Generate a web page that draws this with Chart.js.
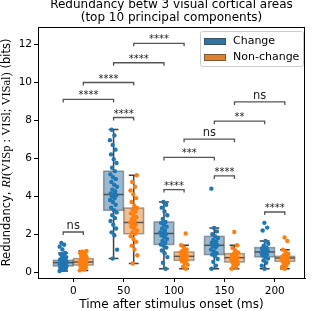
<!DOCTYPE html>
<html><head><meta charset="utf-8">
<script src="https://cdn.jsdelivr.net/npm/chart.js@4.4.0/dist/chart.umd.min.js"></script>
<style>html,body{margin:0;padding:0;background:#fff;}canvas{display:block;}</style>
</head><body>
<canvas id="c" width="312" height="311"></canvas>
<script>
// ---------- data ----------
const categories = [0, 50, 100, 150, 200];            // time after stimulus onset (ms)
const hues = ['Change', 'Non-change'];
const xTicks = [0, 50, 100, 150, 200];
const yTicks = [0, 2, 4, 6, 8, 10, 12];

// box stats per category: [whiskerLow, q1, median, q3, whiskerHigh]
const changeBox = [
  [0.07, 0.33, 0.51, 0.63, 1.02],
  [0.72, 3.26, 4.09, 5.32, 7.51],
  [0.19, 1.46, 2.04, 2.65, 3.70],
  [0.19, 0.93, 1.42, 1.89, 2.33],
  [0.19, 0.81, 1.07, 1.30, 1.65]
];
const nonChangeBox = [
  [0.10, 0.38, 0.54, 0.72, 1.12],
  [0.46, 2.03, 2.62, 3.38, 5.10],
  [0.19, 0.63, 0.84, 1.07, 1.42],
  [0.19, 0.54, 0.77, 0.98, 1.42],
  [0.19, 0.58, 0.75, 0.84, 1.19]
];

// individual values per category
const changePoints = [
  [0.07,0.12,0.15,0.2,0.22,0.25,0.28,0.3,0.32,0.34,0.36,0.38,0.4,0.42,0.44,0.46,0.48,0.5,0.51,0.52,0.54,0.56,0.58,0.6,0.62,0.63,0.66,0.7,0.75,0.8,0.88,0.95,1.02,1.2,1.35,1.45,1.54],
  [0.72,1.19,1.95,2.1,2.3,2.5,2.7,2.85,3.0,3.15,3.26,3.4,3.55,3.7,3.8,3.9,4.0,4.05,4.09,4.15,4.25,4.35,4.5,4.6,4.75,4.9,5.0,5.15,5.32,5.5,5.75,5.95,6.2,6.45,6.7,6.95,7.2,7.5],
  [0.19,0.5,0.8,1.0,1.15,1.3,1.4,1.46,1.55,1.65,1.75,1.85,1.95,2.0,2.04,2.1,2.2,2.3,2.4,2.5,2.6,2.65,2.8,3.0,3.2,3.4,3.55,3.7],
  [0.19,0.35,0.55,0.7,0.85,0.93,1.0,1.1,1.2,1.3,1.38,1.42,1.48,1.55,1.62,1.7,1.8,1.89,2.0,2.15,2.33,4.4],
  [0.19,0.35,0.5,0.62,0.72,0.81,0.88,0.94,1.0,1.04,1.07,1.1,1.15,1.2,1.25,1.3,1.4,1.5,1.65,2.2,2.35,2.6]
];
const nonChangePoints = [
  [0.1,0.15,0.2,0.25,0.3,0.34,0.38,0.4,0.43,0.46,0.48,0.5,0.52,0.54,0.55,0.57,0.6,0.63,0.66,0.7,0.72,0.75,0.8,0.85,0.9,0.95,1.0,1.05,1.08,1.12],
  [0.46,0.9,1.2,1.4,1.6,1.75,1.9,2.03,2.1,2.2,2.3,2.4,2.5,2.55,2.62,2.7,2.8,2.9,3.0,3.1,3.2,3.3,3.38,3.5,3.7,3.9,4.1,4.3,4.5,4.75,5.1],
  [0.19,0.3,0.4,0.5,0.58,0.63,0.68,0.72,0.76,0.8,0.84,0.88,0.92,0.96,1.0,1.04,1.07,1.12,1.2,1.3,1.42,2.04],
  [0.19,0.28,0.36,0.44,0.5,0.54,0.6,0.65,0.7,0.74,0.77,0.8,0.85,0.9,0.95,0.98,1.05,1.15,1.28,1.42,2.12],
  [0.19,0.28,0.36,0.44,0.5,0.55,0.58,0.62,0.66,0.7,0.73,0.75,0.77,0.8,0.82,0.84,0.9,0.98,1.08,1.19,1.65,1.83]
];

// significance annotations: groups as [categoryIndex, hueIndex]
const sigFrom  = [[1,1],[1,0],[0,1],[0,0],[1,0],[0,0],[3,1],[3,0],[2,1],[2,0],[3,0],[2,0],[4,0]];
const sigTo    = [[2,1],[2,0],[1,1],[1,0],[1,1],[0,1],[4,1],[4,0],[3,1],[3,0],[3,1],[2,1],[4,1]];
const sigLevel = [12.04,11.02,9.98,9.09,8.14,2.12,8.96,7.95,7.0,6.04,5.07,4.35,3.17];
const sigLabel = ['****','****','****','****','****','ns','ns','**','ns','***','****','****','****'];

// ---------- styling ----------
const HUE_OFFSET = [-10, 10];
const BOX_HALF = 9.8;
const JITTER = 3.6;
const pointColors = ['#1f77b4', '#ff7f0e'];
const boxFill = ['rgba(50,116,161,0.5)', 'rgba(225,129,44,0.5)'];
const legendFill = ['#3274a1', '#e1812c'];
const lineGray = '#3f3f3f';
const SANS = '"DejaVu Sans", sans-serif';
const SERIF = '"Liberation Serif", "DejaVu Serif", serif';

function makePoints(lists, h) {
  const out = [];
  lists.forEach((vals, ci) => {
    vals.forEach((v, i) => {
      const frac = ((i * 0.6180339887 + ci * 0.37) % 1) - 0.5;
      out.push({x: categories[ci] + HUE_OFFSET[h] + frac * 2 * JITTER, y: v});
    });
  });
  return out;
}

const boxesPlugin = {
  id: 'boxes',
  beforeDatasetsDraw(chart) {
    const {ctx, scales: {x, y}} = chart;
    [changeBox, nonChangeBox].forEach((boxes, h) => {
      boxes.forEach((b, ci) => {
        const cx = categories[ci] + HUE_OFFSET[h];
        const xl = x.getPixelForValue(cx - BOX_HALF), xr = x.getPixelForValue(cx + BOX_HALF);
        const xm = x.getPixelForValue(cx);
        const capL = x.getPixelForValue(cx - BOX_HALF / 2), capR = x.getPixelForValue(cx + BOX_HALF / 2);
        const [lo, q1, med, q3, hi] = b.map(v => y.getPixelForValue(v));
        ctx.save();
        ctx.lineWidth = 1.5;
        ctx.strokeStyle = lineGray;
        ctx.beginPath();
        ctx.moveTo(xm, q1); ctx.lineTo(xm, lo);
        ctx.moveTo(xm, q3); ctx.lineTo(xm, hi);
        ctx.moveTo(capL, lo); ctx.lineTo(capR, lo);
        ctx.moveTo(capL, hi); ctx.lineTo(capR, hi);
        ctx.stroke();
        ctx.fillStyle = boxFill[h];
        ctx.fillRect(xl, q3, xr - xl, q1 - q3);
        ctx.strokeStyle = 'rgba(63,63,63,0.45)';
        ctx.strokeRect(xl, q3, xr - xl, q1 - q3);
        ctx.strokeStyle = 'rgba(63,63,63,0.85)';
        ctx.beginPath(); ctx.moveTo(xl, med); ctx.lineTo(xr, med); ctx.stroke();
        ctx.restore();
      });
    });
  }
};

const annotPlugin = {
  id: 'annot',
  afterDatasetsDraw(chart) {
    const {ctx, scales: {x, y}} = chart;
    ctx.save();
    sigLevel.forEach((lv, i) => {
      const a = sigFrom[i], b = sigTo[i];
      const xa = x.getPixelForValue(categories[a[0]] + HUE_OFFSET[a[1]]);
      const xb = x.getPixelForValue(categories[b[0]] + HUE_OFFSET[b[1]]);
      const yl = y.getPixelForValue(lv);
      ctx.strokeStyle = '#555';
      ctx.lineWidth = 1.3;
      ctx.beginPath();
      ctx.moveTo(xa, yl + 3); ctx.lineTo(xa, yl); ctx.lineTo(xb, yl); ctx.lineTo(xb, yl + 3);
      ctx.stroke();
      ctx.fillStyle = '#222';
      ctx.textAlign = 'center';
      ctx.textBaseline = 'alphabetic';
      if (sigLabel[i] === 'ns') {
        ctx.font = '11.5px ' + SANS;
        ctx.fillText('ns', (xa + xb) / 2, yl - 3);
      } else {
        ctx.font = '10px ' + SANS;
        ctx.fillText(sigLabel[i], (xa + xb) / 2, yl - 1);
      }
    });
    ctx.restore();
  },
  afterDraw(chart) {
    const {ctx, chartArea: ca} = chart;
    ctx.save();
    // frame
    ctx.strokeStyle = '#000';
    ctx.lineWidth = 1;
    ctx.strokeRect(ca.left + 0.5, ca.top + 0.5, ca.right - ca.left - 1, ca.bottom - ca.top);
    // title
    ctx.fillStyle = '#000';
    ctx.textAlign = 'center';
    ctx.textBaseline = 'middle';
    ctx.font = '12px ' + SANS;
    const cx = (ca.left + ca.right) / 2;
    ctx.fillText('Redundancy betw 3 visual cortical areas', cx, 5);
    ctx.fillText('(top 10 principal components)', cx, 18);
    // x label
    ctx.fillText('Time after stimulus onset (ms)', cx, 305);
    // y label (mixed fonts)
    const segs = [
      ['Redundancy, ', '11.5px ' + SANS],
      ['RI', 'italic 12.5px ' + SERIF],
      ['(VISp : VISl; VISal)', '12.5px ' + SERIF],
      [' (bits)', '11.5px ' + SANS]
    ];
    let total = 0;
    segs.forEach(s => { ctx.font = s[1]; total += ctx.measureText(s[0]).width; });
    ctx.translate(7, (ca.top + ca.bottom) / 2);
    ctx.rotate(-Math.PI / 2);
    ctx.textAlign = 'left';
    let px = -total / 2;
    segs.forEach(s => { ctx.font = s[1]; ctx.fillText(s[0], px, 0); px += ctx.measureText(s[0]).width; });
    ctx.restore();
    // legend
    ctx.save();
    const lx = 200, ly = 31, lw = 103, lh = 35;
    ctx.fillStyle = 'rgba(255,255,255,0.8)';
    ctx.strokeStyle = '#cccccc';
    ctx.lineWidth = 1;
    ctx.beginPath(); ctx.roundRect(lx + 0.5, ly + 0.5, lw, lh, 2); ctx.fill(); ctx.stroke();
    ctx.font = '11px ' + SANS;
    ctx.textAlign = 'left';
    ctx.textBaseline = 'middle';
    hues.forEach((name, h) => {
      const yy = ly + 10 + h * 16;
      ctx.fillStyle = legendFill[h];
      ctx.fillRect(204, yy - 3, 22, 7);
      ctx.strokeStyle = 'rgba(63,63,63,0.6)';
      ctx.strokeRect(204.5, yy - 2.5, 21, 6);
      ctx.fillStyle = '#000';
      ctx.fillText(name, 233, yy + 0.5);
    });
    ctx.restore();
  }
};

new Chart(document.getElementById('c'), {
  type: 'scatter',
  data: {
    datasets: [
      {label: hues[0], data: makePoints(changePoints, 0), backgroundColor: pointColors[0], borderWidth: 0, pointRadius: 2.2},
      {label: hues[1], data: makePoints(nonChangePoints, 1), backgroundColor: pointColors[1], borderWidth: 0, pointRadius: 2.2}
    ]
  },
  options: {
    responsive: false,
    animation: false,
    events: [],
    layout: {padding: {top: 27, right: 7, left: 0, bottom: 0}},
    plugins: {legend: {display: false}, title: {display: false}, tooltip: {enabled: false}},
    scales: {
      x: {
        type: 'linear', min: -35, max: 230,
        afterFit: s => { s.height = 33; },
        afterBuildTicks: s => { s.ticks = xTicks.map(v => ({value: v})); },
        grid: {drawOnChartArea: false, drawTicks: true, tickLength: 4, color: '#000', tickWidth: 1},
        border: {display: true, color: '#000', width: 1},
        ticks: {color: '#000', font: {family: SANS, size: 10.5}, padding: 3, maxRotation: 0, callback: v => String(v)}
      },
      y: {
        type: 'linear', min: -0.3, max: 12.9,
        afterFit: s => { s.width = 38; },
        afterBuildTicks: s => { s.ticks = yTicks.map(v => ({value: v})); },
        grid: {drawOnChartArea: false, drawTicks: true, tickLength: 4, color: '#000', tickWidth: 1},
        border: {display: true, color: '#000', width: 1},
        ticks: {color: '#000', font: {family: SANS, size: 10.5}, padding: 2, callback: v => String(v)}
      }
    }
  },
  plugins: [boxesPlugin, annotPlugin]
});
</script>
</body></html>
